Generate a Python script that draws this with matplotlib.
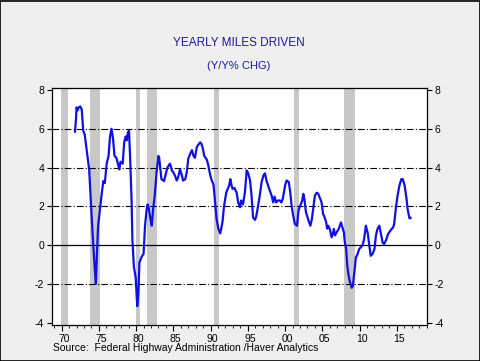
import matplotlib
matplotlib.use("Agg")
import matplotlib.pyplot as plt
import matplotlib.transforms as mtransforms
from matplotlib.ticker import MultipleLocator, FixedLocator

# Y/Y % change in yearly miles driven
years = [
    1971.8, 1971.95, 1972.0, 1972.15, 1972.3, 1972.5, 1972.7, 1972.9, 1973.1, 1973.4,
    1973.7, 1974.0, 1974.25, 1974.45, 1974.6, 1974.75, 1974.9, 1975.1, 1975.4, 1975.6,
    1975.8, 1976.05, 1976.3, 1976.5, 1976.7, 1976.9, 1977.1, 1977.35, 1977.75, 1977.9,
    1978.2, 1978.4, 1978.6, 1978.75, 1978.9, 1979.05, 1979.2, 1979.4, 1979.5, 1979.7,
    1979.95, 1980.15, 1980.3, 1980.45, 1980.75, 1981.0, 1981.2, 1981.4, 1981.55, 1981.7,
    1981.9, 1982.1, 1982.3, 1982.5, 1982.75, 1983.0, 1983.1, 1983.4, 1983.6, 1983.75,
    1984.0, 1984.2, 1984.55, 1984.8, 1985.0, 1985.2, 1985.45, 1985.65, 1985.9, 1986.15,
    1986.3, 1986.6, 1986.8, 1987.0, 1987.25, 1987.5, 1987.7, 1987.9, 1988.15, 1988.4,
    1988.6, 1988.8, 1988.95, 1989.15, 1989.5, 1989.7, 1989.9, 1990.1, 1990.4, 1990.6,
    1990.8, 1991.05, 1991.3, 1991.5, 1991.6, 1991.8, 1992.1, 1992.3, 1992.5, 1992.65,
    1992.8, 1992.95, 1993.2, 1993.5, 1993.7, 1993.95, 1994.1, 1994.35, 1994.6, 1994.85,
    1995.05, 1995.3, 1995.5, 1995.7, 1995.95, 1996.1, 1996.3, 1996.6, 1996.85, 1997.1,
    1997.3, 1997.5, 1997.7, 1997.95, 1998.2, 1998.4, 1998.6, 1998.8, 1999.05, 1999.3,
    1999.5, 1999.7, 2000.0, 2000.2, 2000.5, 2000.7, 2000.9, 2001.1, 2001.3, 2001.6,
    2001.8, 2002.0, 2002.3, 2002.45, 2002.6, 2002.8, 2003.0, 2003.2, 2003.4, 2003.6,
    2004.0, 2004.25, 2004.45, 2004.7, 2004.9, 2005.1, 2005.25, 2005.5, 2005.65, 2005.8,
    2006.0, 2006.25, 2006.45, 2006.55, 2006.7, 2006.9, 2007.2, 2007.5, 2007.7, 2007.9,
    2008.0, 2008.2, 2008.35, 2008.5, 2008.7, 2008.95, 2009.1, 2009.3, 2009.5, 2009.7,
    2009.95, 2010.2, 2010.4, 2010.6, 2010.85, 2011.1, 2011.3, 2011.5, 2011.75, 2012.0,
    2012.2, 2012.4, 2012.65, 2012.9, 2013.1, 2013.3, 2013.6, 2013.8, 2014.05, 2014.3,
    2014.5, 2014.65, 2014.9, 2015.1, 2015.35, 2015.6, 2015.8, 2016.05, 2016.3, 2016.45,
    2016.7, 2016.85,
]
miles_chg = [
    5.85, 6.6, 7.1, 6.95, 7.1, 7.15, 7.0, 5.9, 5.7, 4.8,
    3.9, 1.7, 0.0, -1.2, -2.0, -0.4, 1.0, 1.7, 2.7, 3.3,
    3.2, 4.2, 4.6, 5.6, 6.0, 5.5, 4.6, 4.5, 3.9, 4.3,
    4.2, 5.3, 5.6, 5.4, 5.8, 5.9, 4.5, 2.2, 0.3, -1.1,
    -1.7, -3.15, -2.5, -0.9, -0.6, -0.45, 1.0, 1.8, 2.1, 1.9,
    1.4, 1.0, 1.9, 2.55, 3.76, 4.6, 4.5, 3.4, 3.35, 3.3,
    3.7, 4.0, 4.2, 3.85, 3.75, 3.6, 3.33, 3.5, 3.9, 3.6,
    3.33, 3.4, 3.75, 4.45, 4.7, 4.9, 4.6, 4.5, 5.06, 5.2,
    5.3, 5.2, 5.0, 4.6, 4.4, 4.1, 3.7, 3.4, 3.1, 2.2,
    1.35, 0.83, 0.6, 1.0, 1.2, 2.0, 2.7, 2.9, 3.07, 3.4,
    3.1, 2.9, 2.95, 2.7, 2.2, 1.95, 2.3, 2.1, 2.7, 3.85,
    3.7, 3.33, 2.55, 1.43, 1.3, 1.43, 1.85, 2.55, 3.25, 3.6,
    3.7, 3.33, 3.1, 2.8, 2.55, 2.2, 2.5, 2.2, 2.3, 2.3,
    2.2, 2.4, 3.07, 3.33, 3.25, 2.7, 1.95, 1.5, 1.1, 1.0,
    1.78, 2.0, 2.3, 2.64, 2.35, 1.7, 1.45, 1.2, 1.0, 1.35,
    2.55, 2.7, 2.65, 2.4, 2.2, 1.6, 1.5, 1.2, 0.85, 1.0,
    0.83, 0.4, 0.65, 0.83, 0.5, 0.65, 0.83, 1.17, 0.9, 0.65,
    0.2, -0.2, -1.07, -1.5, -1.9, -2.2, -2.1, -1.4, -0.64, -0.5,
    -0.2, -0.1, 0.0, 0.3, 1.0, 0.6, 0.0, -0.55, -0.45, -0.2,
    0.5, 0.83, 1.0, 0.5, 0.13, 0.05, 0.3, 0.55, 0.7, 0.83,
    0.9, 1.1, 2.0, 2.55, 3.07, 3.4, 3.4, 3.07, 2.4, 1.85,
    1.38, 1.4,
]

# NBER recessions
rec_start = [1969.92, 1973.83, 1980.0, 1981.5, 1990.5, 2001.17, 2007.92]
rec_end = [1970.85, 1975.15, 1980.55, 1982.85, 1991.15, 2001.85, 2009.45]

tick_years = [1970, 1975, 1980, 1985, 1990, 1995, 2000, 2005, 2010, 2015]
tick_labels = ['70', '75', '80', '85', '90', '95', '00', '05', '10', '15']

plt.rcParams['font.family'] = ['Liberation Sans', 'DejaVu Sans']

bg = '#efefef'
fig = plt.figure(figsize=(4.81, 3.61), dpi=100, facecolor=bg)
ax = fig.add_axes([0.1075, 0.0997, 0.7802, 0.6565])
ax.set_facecolor('white')

for s, e in zip(rec_start, rec_end):
    ax.axvspan(s, e, color='#c8c8c8', lw=0, zorder=1)

for y in [-2, 2, 4, 6]:
    ax.axhline(y, color='black', lw=0.8, ls=(0, (6, 2, 1, 2)), zorder=2)
ax.axhline(0, color='black', lw=0.9, zorder=2)

ax.plot(years, miles_chg, color='#1010e0', lw=1.6, zorder=3)

ax.set_xlim(1968.67, 2019.05)
ax.set_ylim(-4.12, 8.1)
ax.set_yticks([-4, -2, 0, 2, 4, 6, 8])
ax.set_yticklabels(['-4', '-2', '0', '2', '4', '6', '8'])
ax.xaxis.set_major_locator(FixedLocator(tick_years))
ax.set_xticklabels(tick_labels)
ax.xaxis.set_minor_locator(MultipleLocator(1))

ax.tick_params(axis='y', direction='out', length=3.5, width=0.8, labelsize=7.5,
               right=True, labelright=True, pad=2)
ax.tick_params(axis='x', which='major', direction='out', length=4, width=0.8,
               labelsize=7.5, pad=2.5)
ax.tick_params(axis='x', which='minor', direction='out', length=2, width=0.6)
for sp in ax.spines.values():
    sp.set_color('black')
    sp.set_linewidth(0.9)

# year labels sit a little right of their ticks in the original
shift = mtransforms.ScaledTranslation(2.2 / 100, 0, fig.dpi_scale_trans)
for lab in ax.get_xticklabels():
    lab.set_transform(lab.get_transform() + shift)

fig.text(0.497, 0.88, 'YEARLY MILES DRIVEN', ha='center', va='center',
         fontsize=8.5, color='#1a1a9a')
fig.text(0.497, 0.817, '(Y/Y% CHG)', ha='center', va='center',
         fontsize=8, color='#1a1a9a')
fig.text(0.11, 0.036, 'Source:  Federal Highway Administration /Haver Analytics',
         ha='left', va='center', fontsize=7.5, color='black')

# border round the whole figure
fig.patches.append(plt.Rectangle((0.001, 0.001), 0.997, 0.997, transform=fig.transFigure,
                                 fill=False, edgecolor='black', lw=1.2))

fig.savefig('out.png', dpi=100, facecolor=bg)
